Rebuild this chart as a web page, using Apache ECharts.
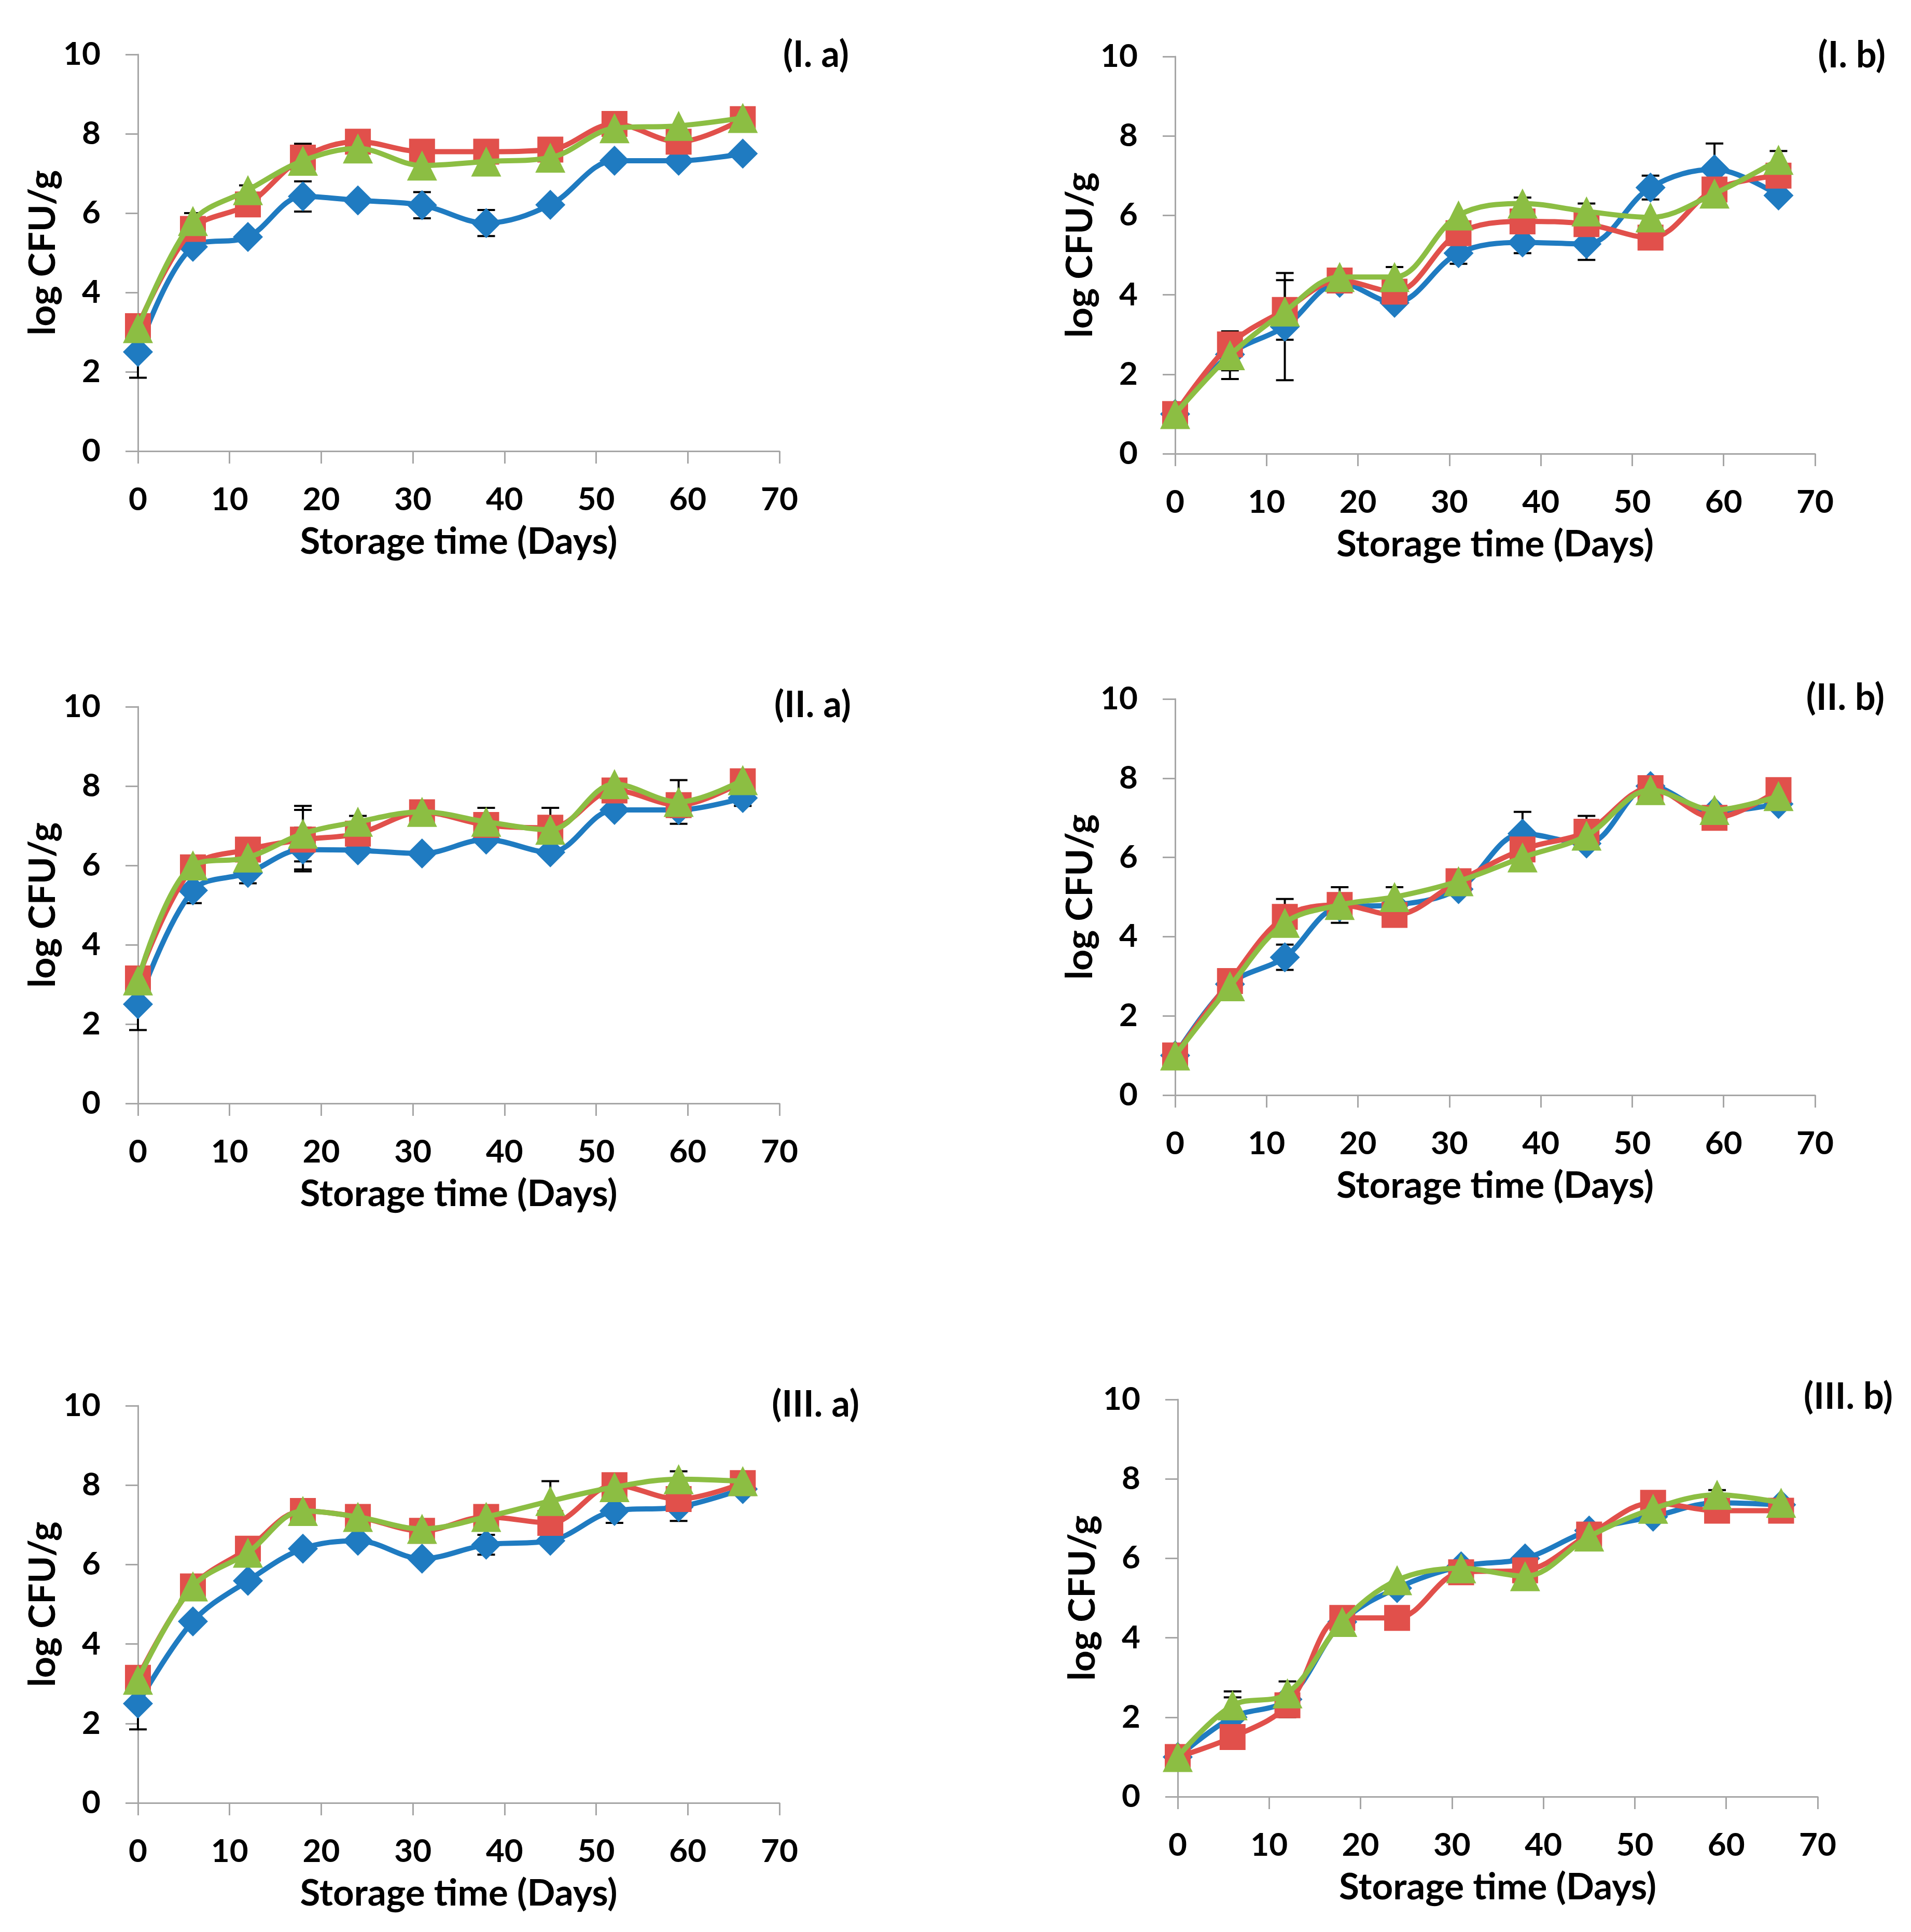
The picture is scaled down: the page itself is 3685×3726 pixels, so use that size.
<!DOCTYPE html>
<html><head><meta charset="utf-8">
<script src="https://cdn.jsdelivr.net/npm/echarts@6/dist/echarts.min.js"></script>
<style>html,body{margin:0;padding:0;background:#fff}#c{width:3685px;height:3726px}</style>
</head><body><div id="c"></div>
<script>
// ---- data ----
const days = [0, 6, 12, 18, 24, 31, 38, 45, 52, 59, 66];
const panelNames = ['(I. a)', '(I. b)', '(II. a)', '(II. b)', '(III. a)', '(III. b)'];
const xAxisTitle = 'Storage time (Days)';
const yAxisTitle = 'log CFU/g';

const Ia_blue  = [2.5, 5.15, 5.4, 6.42, 6.32, 6.2, 5.75, 6.21, 7.32, 7.32, 7.5];
const Ia_red   = [3.15, 5.6, 6.22, 7.4, 7.8, 7.55, 7.55, 7.6, 8.25, 7.8, 8.37];
const Ia_green = [3.1, 5.8, 6.58, 7.32, 7.63, 7.2, 7.3, 7.4, 8.14, 8.2, 8.4];
const Ia_blue_err  = [0.65, 0, 0, 0.38, 0, 0.33, 0.33, 0, 0, 0, 0];
const Ia_red_err   = [0, 0, 0, 0.35, 0, 0, 0, 0, 0, 0, 0];
const Ia_green_err = [0, 0.2, 0.12, 0, 0, 0, 0, 0, 0, 0, 0];

const Ib_blue  = [1.0, 2.5, 3.2, 4.3, 3.8, 5.05, 5.32, 5.28, 6.7, 7.16, 6.5];
const Ib_red   = [1.0, 2.75, 3.62, 4.36, 4.08, 5.55, 5.85, 5.78, 5.44, 6.65, 7.0];
const Ib_green = [1.0, 2.48, 3.58, 4.45, 4.45, 6.0, 6.3, 6.1, 5.95, 6.55, 7.4];
const Ib_blue_err  = [0, 0.4, 1.35, 0, 0, 0.27, 0.27, 0.4, 0.3, 0.65, 0];
const Ib_red_err   = [0, 0, 0.75, 0, 0, 0, 0, 0, 0, 0, 0];
const Ib_green_err = [0, 0.6, 0, 0, 0.25, 0, 0.15, 0.2, 0, 0, 0.22];

const IIa_blue  = [2.5, 5.37, 5.81, 6.4, 6.38, 6.3, 6.65, 6.33, 7.4, 7.4, 7.7];
const IIa_red   = [3.15, 5.95, 6.4, 6.65, 6.8, 7.34, 7.02, 6.95, 7.89, 7.52, 8.12];
const IIa_green = [3.1, 6.0, 6.2, 6.8, 7.1, 7.35, 7.1, 6.9, 8.05, 7.6, 8.15];
const IIa_blue_err  = [0.65, 0.32, 0.26, 0.55, 0, 0, 0, 0, 0, 0.18, 0.2];
const IIa_red_err   = [0, 0, 0, 0.75, 0, 0, 0, 0, 0, 0, 0];
const IIa_green_err = [0, 0, 0, 0.7, 0.15, 0, 0.35, 0.55, 0, 0.55, 0];

const IIb_blue  = [1.0, 2.8, 3.48, 4.75, 4.8, 5.2, 6.6, 6.35, 7.8, 7.15, 7.35];
const IIb_red   = [1.0, 2.88, 4.5, 4.8, 4.55, 5.4, 6.2, 6.65, 7.75, 7.0, 7.7];
const IIb_green = [1.0, 2.75, 4.35, 4.8, 5.0, 5.4, 6.0, 6.55, 7.7, 7.2, 7.55];
const IIb_blue_err  = [0, 0, 0.32, 0, 0, 0, 0.55, 0, 0, 0, 0];
const IIb_red_err   = [0, 0, 0.45, 0.45, 0, 0, 0, 0.4, 0, 0, 0];
const IIb_green_err = [0, 0, 0, 0, 0.25, 0, 0, 0, 0, 0, 0];

const IIIa_blue  = [2.5, 4.57, 5.59, 6.4, 6.6, 6.15, 6.5, 6.6, 7.35, 7.45, 7.9];
const IIIa_red   = [3.15, 5.45, 6.4, 7.35, 7.2, 6.85, 7.2, 7.05, 8.0, 7.65, 8.05];
const IIIa_green = [3.1, 5.45, 6.3, 7.35, 7.2, 6.9, 7.2, 7.6, 7.95, 8.15, 8.1];
const IIIa_blue_err  = [0.65, 0, 0, 0, 0, 0, 0.25, 0, 0.3, 0.35, 0];
const IIIa_red_err   = [0, 0, 0, 0, 0, 0, 0, 0, 0, 0, 0];
const IIIa_green_err = [0, 0, 0, 0, 0, 0, 0, 0.5, 0, 0.2, 0];

const IIIb_blue  = [1.0, 2.0, 2.45, 4.4, 5.25, 5.8, 6.0, 6.7, 7.05, 7.4, 7.35];
const IIIb_red   = [1.0, 1.5, 2.3, 4.5, 4.5, 5.65, 5.7, 6.6, 7.4, 7.2, 7.2];
const IIIb_green = [1.0, 2.3, 2.6, 4.4, 5.45, 5.75, 5.55, 6.55, 7.25, 7.6, 7.4];
const IIIb_blue_err  = [0, 0.65, 0, 0, 0, 0, 0, 0, 0, 0, 0];
const IIIb_red_err   = [0, 0.3, 0.3, 0, 0, 0, 0, 0, 0, 0, 0];
const IIIb_green_err = [0, 0.2, 0.3, 0, 0, 0, 0, 0, 0, 0.12, 0];

// ---- assembly ----
const panels = [
  [Ia_blue, Ia_red, Ia_green, Ia_blue_err, Ia_red_err, Ia_green_err],
  [Ib_blue, Ib_red, Ib_green, Ib_blue_err, Ib_red_err, Ib_green_err],
  [IIa_blue, IIa_red, IIa_green, IIa_blue_err, IIa_red_err, IIa_green_err],
  [IIb_blue, IIb_red, IIb_green, IIb_blue_err, IIb_red_err, IIb_green_err],
  [IIIa_blue, IIIa_red, IIIa_green, IIIa_blue_err, IIIa_red_err, IIIa_green_err],
  [IIIb_blue, IIIb_red, IIIb_green, IIIb_blue_err, IIIb_red_err, IIIb_green_err]
];
// layout: [left, top, width, height] and panel-label anchor [right x, middle y]
const layout = [
  [266, 105, 1237, 765], [2266, 109, 1234, 766],
  [266, 1363, 1237, 765], [2266, 1348, 1234, 764],
  [266, 2711, 1237, 766], [2271, 2699, 1234, 766]
];
const labelPos = [[1637, 106], [3636, 107], [1641, 1360], [3634, 1346], [1657, 2709], [3650, 2694]];

const FONT = 'Lato';
const FS = 62;     // tick labels
const FT = 71;     // axis titles
const FP = 70;     // panel labels
const AX = '#A6A6A6';
const colors = ['#1F7BC1', '#E1504B', '#8CBE43'];
const symbols = ['diamond', 'rect', 'triangle'];
const symSizes = [58, 50, 58];

const grid = [], xAxis = [], yAxis = [], series = [], graphic = [];
const tick = {fontFamily: FONT, fontWeight: 'bold', fontSize: FS, color: '#000'};
const ttl = {fontFamily: FONT, fontWeight: 'bold', fontSize: FT, color: '#000'};

panels.forEach((p, k) => {
  const L = layout[k];
  grid.push({left: L[0], top: L[1], width: L[2], height: L[3], containLabel: false});
  xAxis.push({
    gridIndex: k, type: 'value', min: 0, max: 70, interval: 10,
    axisLine: {show: true, onZero: false, lineStyle: {color: AX, width: 3}},
    axisTick: {show: true, length: 24, lineStyle: {color: AX, width: 3}},
    splitLine: {show: false},
    axisLabel: Object.assign({margin: 63}, tick),
    name: xAxisTitle, nameLocation: 'middle', nameGap: 140,
    nameTextStyle: Object.assign({}, ttl)
  });
  yAxis.push({
    gridIndex: k, type: 'value', min: 0, max: 10, interval: 2,
    axisLine: {show: true, onZero: false, lineStyle: {color: AX, width: 3}},
    axisTick: {show: true, length: 24, lineStyle: {color: AX, width: 3}},
    splitLine: {show: false},
    axisLabel: Object.assign({margin: 72}, tick),
    name: yAxisTitle, nameLocation: 'middle', nameGap: 147,
    nameTextStyle: Object.assign({}, ttl)
  });
  // error bars
  const errData = [];
  for (let s = 0; s < 3; s++) {
    const vals = p[s], errs = p[s + 3];
    days.forEach((d, i) => {
      if (errs[i] > 0) errData.push([d, vals[i] - errs[i], vals[i] + errs[i]]);
    });
  }
  series.push({
    type: 'custom', xAxisIndex: k, yAxisIndex: k, z: 1, silent: true,
    data: errData,
    renderItem: function (params, api) {
      const x = api.value(0);
      const lo = api.coord([x, api.value(1)]);
      const hi = api.coord([x, api.value(2)]);
      const w = 17;
      const st = {stroke: '#000', lineWidth: 4};
      return {type: 'group', children: [
        {type: 'line', shape: {x1: lo[0], y1: lo[1], x2: hi[0], y2: hi[1]}, style: st},
        {type: 'line', shape: {x1: lo[0] - w, y1: lo[1], x2: lo[0] + w, y2: lo[1]}, style: st},
        {type: 'line', shape: {x1: hi[0] - w, y1: hi[1], x2: hi[0] + w, y2: hi[1]}, style: st}
      ]};
    }
  });
  for (let s = 0; s < 3; s++) {
    series.push({
      type: 'line', xAxisIndex: k, yAxisIndex: k, z: 2 + s,
      smooth: 0.35, symbol: symbols[s], symbolSize: symSizes[s],
      lineStyle: {color: colors[s], width: 10},
      itemStyle: {color: colors[s]},
      data: days.map((d, i) => [d, p[s][i]])
    });
  }
  graphic.push({
    type: 'text', x: labelPos[k][0], y: labelPos[k][1],
    style: {text: panelNames[k], fontFamily: FONT, fontWeight: 'bold', fontSize: FP,
            fill: '#000', align: 'right', verticalAlign: 'middle'}
  });
});

const chart = echarts.init(document.getElementById('c'), null, {renderer: 'canvas'});
chart.setOption({animation: false, backgroundColor: '#fff', grid, xAxis, yAxis, series, graphic});
</script>
</body></html>
